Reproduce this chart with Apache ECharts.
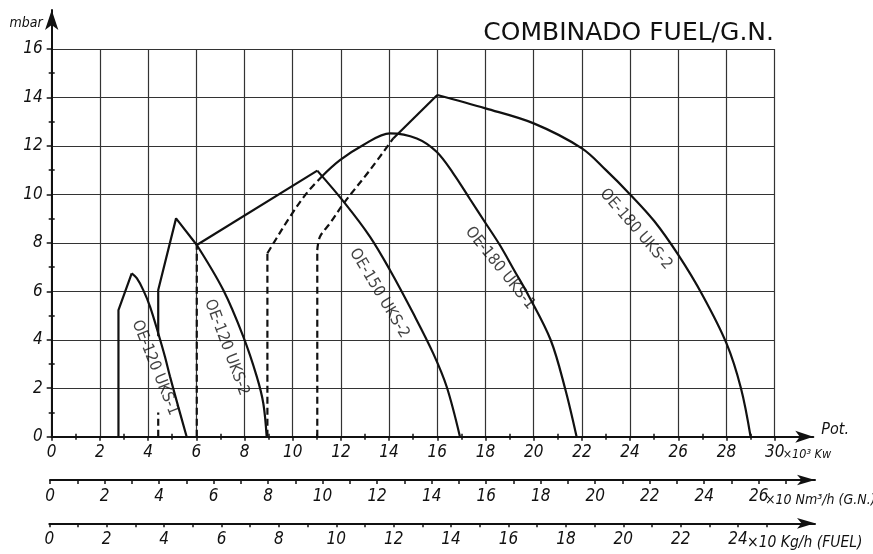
<!DOCTYPE html>
<html><head><meta charset="utf-8">
<script src="https://cdn.jsdelivr.net/npm/echarts@6/dist/echarts.min.js"></script>
<style>html,body{margin:0;padding:0;background:#fff}#c{width:873px;height:554px}</style>
</head><body><div id="c"></div>
<script>
// ---------- tick labels ----------
const mbarTicks = [0,2,4,6,8,10,12,14,16];
const kwTicks   = [0,2,4,6,8,10,12,14,16,18,20,22,24,26,28,30];
const gnTicks   = [0,2,4,6,8,10,12,14,16,18,20,22,24,26];
const fuelTicks = [0,2,4,6,8,10,12,14,16,18,20,22,24];

// ---------- curves (x = Pot. x10^3 kW, y = mbar) ----------
const uks1_120_rise = [[2.77,0],[2.77,5.22],[3.32,6.74]];
const uks1_120_fall = [[3.32,6.74],[3.53,6.54],[3.80,6.05],[4.08,5.37],[4.42,4.27],[4.70,3.30],[4.91,2.48],[5.25,1.24],[5.6,0]];
const uks2_120_rise = [[4.42,4.15],[4.42,6.05],[5.16,9.01],[6.02,7.91]];
const uks2_120_fall = [[6.02,7.91],[7.12,6.05],[7.95,4.13],[8.51,2.48],[8.78,1.38],[8.92,0]];
const uks2_120_dash = [[4.42,0],[4.42,1.0]];
const oe150_dash    = [[6.02,0],[6.02,7.91]];
const oe150_rise    = [[6.02,7.91],[11.02,10.98]];
const oe150_fall    = [[11.02,10.98],[12.17,9.63],[13.21,8.25],[14.04,6.87],[15.0,5.09],[15.83,3.44],[16.39,2.06],[16.94,0]];
const uks1_180_dashV = [[8.95,0],[8.95,7.57]];
const uks1_180_dashC = [[8.95,7.57],[9.2,7.98],[9.89,9.08],[10.58,10.05],[11.2,10.73]];
const uks1_180_arc   = [[11.2,10.73],[11.96,11.41],[12.93,12.04],[14.04,12.52],[15.15,12.31],[15.97,11.76],[16.66,10.87],[17.36,9.8],[18.0,8.82],[18.6,7.9],[19.2,6.85],[19.8,5.8],[20.7,4.0],[21.3,2.0],[21.78,0]];
const uks2_180_dashV = [[11.02,0],[11.02,7.7]];
const uks2_180_dashC = [[11.02,7.7],[11.13,8.25],[11.55,8.81],[12.17,9.7],[13.21,11.01],[14.17,12.31]];
const uks2_180_rise  = [[14.17,12.31],[16.0,14.1]];
const uks2_180_arc   = [[16.0,14.1],[18.0,13.55],[20.0,12.93],[22.0,11.9],[23.0,11.0],[24.0,10.0],[25.0,8.9],[26.0,7.5],[27.0,5.85],[28.0,3.85],[28.6,2.0],[29.0,0]];

// ---------- curve labels ----------
const curveNames  = ['OE-120 UKS-1','OE-120 UKS-2','OE-150 UKS-2','OE-180 UKS-1','OE-180 UKS-2'];
const curveAnchor = [[4.29,2.84],[7.26,3.68],[13.59,5.92],[18.6,6.95],[24.24,8.56]];

const FONT = '"Liberation Sans Narrow","Arial Narrow","DejaVu Sans Condensed","Liberation Sans",sans-serif';
const INK = '#111';
const labelAngles = [-68,-69.5,-59,-51,-49];
function range(a,b,s){const r=[];for(let v=a;v<=b+1e-9;v+=s)r.push(v);return r;}
function ts(extra){return Object.assign({fontFamily:FONT,fontStyle:'italic',fontSize:17,color:INK},extra||{});}

const chart = echarts.init(document.getElementById('c'), null, {renderer:'canvas'});

function ln(data, smooth, dashed){
  return {type:'line',xAxisIndex:0,yAxisIndex:0,data:data,smooth:smooth?0.35:false,symbol:'none',silent:true,z:5,
    lineStyle:{color:INK,width:2.2,type:dashed?[7,4]:'solid'}};
}
const hideAll = {axisLine:{show:false},axisTick:{show:false},axisLabel:{show:false},splitLine:{show:false}};
const lineSt = {color:INK,width:2};
const tickSt = {color:INK,width:1.5};
const arrowLine = (size)=>({show:true,onZero:false,symbol:['none','arrow'],symbolSize:size,lineStyle:lineSt});
function tickAxis(grid,max,vals,inside,len){
  return {gridIndex:grid,type:'value',min:0,max:max,...hideAll,
    axisTick:{show:true,inside:inside,customValues:vals,length:len,lineStyle:tickSt}};
}

const series = [
  ln(uks1_120_rise,false,false), ln(uks1_120_fall,true,false),
  ln(uks2_120_rise,false,false), ln(uks2_120_fall,true,false), ln(uks2_120_dash,false,true),
  ln(oe150_dash,false,true), ln(oe150_rise,false,false), ln(oe150_fall,true,false),
  ln(uks1_180_dashV,false,true), ln(uks1_180_dashC,true,true), ln(uks1_180_arc,true,false),
  ln(uks2_180_dashV,false,true), ln(uks2_180_dashC,true,true), ln(uks2_180_rise,false,false), ln(uks2_180_arc,true,false)
];
curveNames.forEach((n,i)=>{
  series.push({type:'scatter',xAxisIndex:0,yAxisIndex:0,symbolSize:0,silent:true,z:6,data:[curveAnchor[i]],
    label:{show:true,position:'inside',formatter:n,rotate:labelAngles[i],fontFamily:FONT,fontSize:16,color:INK}});
});

const gnMax = 765/27.26, fuelMax = 765.7/28.7;
const g = (o)=>Object.assign({containLabel:false,outerBoundsMode:'none'},o);
const option = {
  animation:false,
  backgroundColor:'#fff',
  title:{text:'COMBINADO FUEL/G.N.',right:94,top:16,textStyle:{fontFamily:'"DejaVu Sans",sans-serif',fontSize:25,fontWeight:'normal',color:INK}},
  grid:[
    g({left:51.7,top:49,width:723,height:387.7}),
    g({left:51.7,top:10,width:761.6,height:426.7}),
    g({left:50,top:479,width:765,height:1}),
    g({left:49.3,top:522.3,width:765.7,height:1})
  ],
  xAxis:[
    {gridIndex:0,type:'value',min:0,max:30,interval:2,
      axisLine:{show:true,lineStyle:lineSt},
      axisTick:{show:true,length:4,lineStyle:tickSt},
      axisLabel:{margin:7,...ts()},
      splitLine:{show:true,lineStyle:{color:'#333',width:1.2}},
      name:'×10³ Kw',nameLocation:'end',nameGap:8,nameMoveOverlap:false,nameTextStyle:ts({fontSize:12.5,verticalAlign:'top',lineHeight:37})},
    tickAxis(0,30,range(1,29,2),false,3),
    tickAxis(0,30,range(1,29,2),true,3),
    {gridIndex:1,type:'value',min:0,max:761.6/24.1,...hideAll,axisLine:arrowLine([9,18]),
      name:'Pot.',nameLocation:'end',nameGap:8,nameMoveOverlap:false,nameTextStyle:ts({fontSize:16,verticalAlign:'bottom',lineHeight:14})},
    {gridIndex:2,type:'value',min:0,max:gnMax,...hideAll,axisLine:arrowLine([8,18]),
      axisTick:{show:true,customValues:range(0,27,1),length:4,lineStyle:tickSt},
      axisLabel:{show:true,customValues:gnTicks,margin:8,...ts()},
      name:'×10 Nm³/h (G.N.)',nameLocation:'end',nameGap:-50,nameMoveOverlap:false,nameTextStyle:ts({fontSize:14,verticalAlign:'top',lineHeight:40})},
    tickAxis(2,gnMax,range(0,27,1),true,4),
    {gridIndex:3,type:'value',min:0,max:fuelMax,...hideAll,axisLine:arrowLine([8,18]),
      axisTick:{show:true,customValues:range(0,25,1),length:4,lineStyle:tickSt},
      axisLabel:{show:true,customValues:fuelTicks,margin:8,...ts()},
      name:'×10 Kg/h (FUEL)',nameLocation:'end',nameGap:-68,nameMoveOverlap:false,nameTextStyle:ts({fontSize:15.5,verticalAlign:'top',lineHeight:40})},
    tickAxis(3,fuelMax,range(0,25,1),true,4)
  ],
  yAxis:[
    {gridIndex:0,type:'value',min:0,max:16,interval:2,
      axisLine:{show:true,lineStyle:lineSt},
      axisTick:{show:true,length:5,lineStyle:tickSt},
      axisLabel:{margin:9,...ts({padding:[5,0,0,0]})},
      splitLine:{show:true,lineStyle:{color:'#333',width:1.2}},
      name:'mbar',nameLocation:'end',nameGap:26,nameMoveOverlap:false,nameTextStyle:ts({fontSize:14,align:'right',verticalAlign:'middle',padding:[0,9,0,0]})},
    tickAxis(0,16,range(1,15,2),false,3),
    tickAxis(0,16,range(1,15,2),true,3),
    {gridIndex:1,type:'value',min:0,max:426.7/24.23,...hideAll,axisLine:arrowLine([10,20])},
    {gridIndex:2,type:'value',min:0,max:1,show:false},
    {gridIndex:3,type:'value',min:0,max:1,show:false}
  ],
  series:series
};
chart.setOption(option);
</script></body></html>
